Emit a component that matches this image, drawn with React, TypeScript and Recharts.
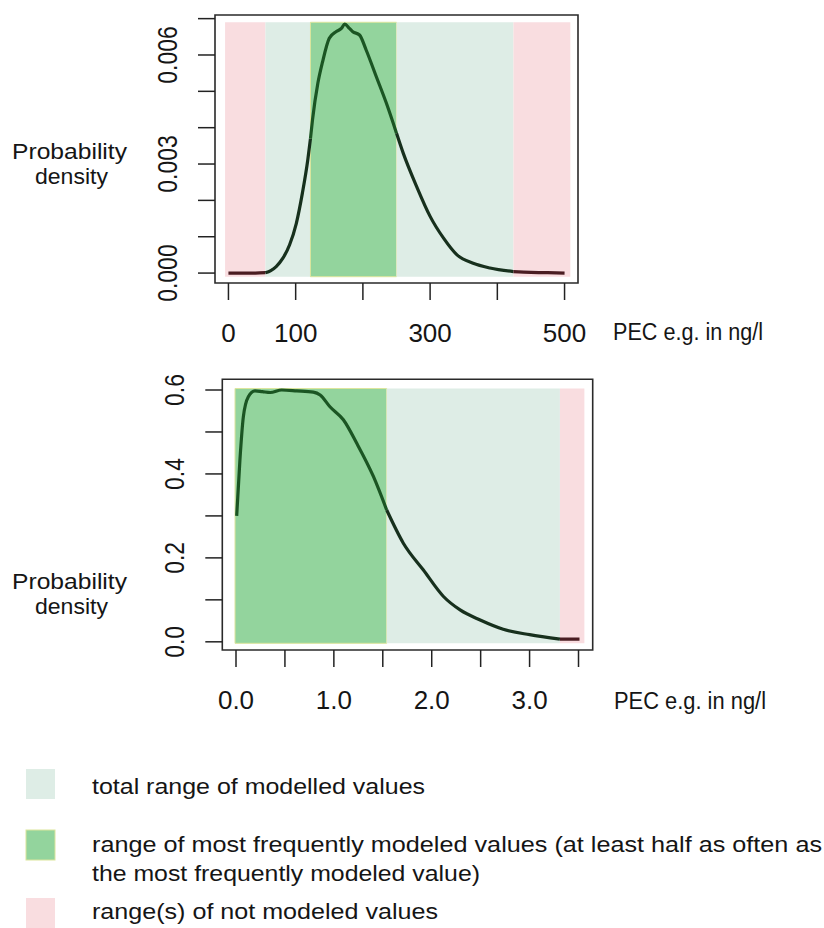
import React from 'react';
import { ComposedChart, Line, XAxis, YAxis, ReferenceArea } from 'recharts';

const FONT = '"Liberation Sans", Arial, Helvetica, sans-serif';
const INK = '#151515';

// colours of the ranges and of the density curve inside each range
const FILL = { none: '#f9dde0', total: '#deede6', frequent: '#93d49d' };
const CURVE = { none: '#4a1d22', total: '#17301d', frequent: '#1b5523' };

// upper panel: PEC e.g. in ng/l, 0..500
const topPec = [0, 20, 40, 55, 63, 71, 81, 91, 101, 110, 118, 122, 125, 133, 140, 150, 160, 168, 173, 180, 185, 195, 205, 220, 235, 250, 260, 280, 300, 320, 340, 364, 389, 424, 450, 475, 500];
const topDensity = [0, 0, 0, 0.00001, 0.00007, 0.00018, 0.00041, 0.00078, 0.00137, 0.0022, 0.00311, 0.0037, 0.00421, 0.00522, 0.00581, 0.00646, 0.00664, 0.00673, 0.00685, 0.00673, 0.00664, 0.00655, 0.00613, 0.0054, 0.00467, 0.00385, 0.0033, 0.00238, 0.00156, 0.00096, 0.0005, 0.00027, 0.00014, 0.00004, 0.00002, 0.00001, 0];
const topBreaks = [55, 122, 250, 424];
const topKinds = ['none', 'total', 'frequent', 'total', 'none'];
const topRangeEdges = [-5, 55, 122, 250, 424, 508.6];
const topRectY = [-0.0001, 0.0069];
const topTicksX = [0, 100, 200, 300, 400, 500];
const topLabelsX = ['0', '100', '', '300', '', '500'];
const topTicksY = [0, 0.001, 0.002, 0.003, 0.004, 0.005, 0.006, 0.007];
const topLabelsY = ['0.000', '', '', '0.003', '', '', '0.006', ''];

// lower panel: PEC e.g. in ng/l, 0..3.5
const lowPec = [0.007, 0.04, 0.075, 0.126, 0.194, 0.27, 0.35, 0.467, 0.62, 0.79, 0.86, 0.96, 1.097, 1.234, 1.404, 1.54, 1.71, 1.915, 2.12, 2.29, 2.495, 2.73, 3.0, 3.31, 3.51];
const lowDensity = [0.3, 0.433, 0.536, 0.584, 0.598, 0.596, 0.594, 0.6, 0.598, 0.595, 0.588, 0.56, 0.529, 0.473, 0.394, 0.314, 0.235, 0.171, 0.108, 0.076, 0.052, 0.03, 0.017, 0.0064, 0.0064];
const lowBreaks = [1.54, 3.31];
const lowKinds = ['frequent', 'total', 'none'];
const lowRangeEdges = [-0.01, 1.54, 3.31, 3.56];
const lowRectY = [-0.0036, 0.6036];
const lowTicksX = [0, 0.5, 1, 1.5, 2, 2.5, 3, 3.5];
const lowLabelsX = ['0.0', '', '1.0', '', '2.0', '', '3.0', ''];
const lowTicksY = [0, 0.1, 0.2, 0.3, 0.4, 0.5, 0.6];
const lowLabelsY = ['0.0', '', '0.2', '', '0.4', '', '0.6'];

const legendLabels = [
  ['total range of modelled values'],
  ['range of most frequently modeled values (at least half as often as', 'the most frequently modeled value)'],
  ['range(s) of not modeled values'],
];

type Pt = { x: number; y: number };

// split the curve at the range edges so each piece can take its own colour
function splitCurve(xs: number[], ys: number[], breaks: number[], kinds: string[]) {
  return kinds.map((kind, i) => {
    const lo = i === 0 ? -Infinity : breaks[i - 1];
    const hi = i === breaks.length ? Infinity : breaks[i];
    const data: Pt[] = [];
    xs.forEach((x, j) => {
      if (x >= lo && x <= hi) data.push({ x, y: ys[j] });
    });
    return { kind, data };
  });
}

const XTick = (props: any) => {
  const { x, y, payload, ticks, labels } = props;
  const label = labels[ticks.indexOf(payload.value)];
  if (!label) return null;
  return (
    <text x={x} y={y + 42} textAnchor="middle" fontSize={26} fontFamily={FONT} fill={INK}>
      {label}
    </text>
  );
};

const YTick = (props: any) => {
  const { x, y, payload, ticks, labels } = props;
  const label = labels[ticks.indexOf(payload.value)];
  if (!label) return null;
  return (
    <text
      transform={`translate(${x - 31},${y}) rotate(-90) scale(0.82,1)`}
      textAnchor="middle"
      dy="0.35em"
      fontSize={28}
      fontFamily={FONT}
      fill={INK}
    >
      {label}
    </text>
  );
};

interface PanelProps {
  top: number;
  height: number;
  margin: { top: number; right: number; bottom: number; left: number };
  xDomain: [number, number];
  yDomain: [number, number];
  xs: number[];
  ys: number[];
  breaks: number[];
  kinds: string[];
  rangeEdges: number[];
  rectY: number[];
  ticksX: number[];
  labelsX: string[];
  ticksY: number[];
  labelsY: string[];
}

const DensityPanel: React.FC<PanelProps> = (p) => {
  const pieces = splitCurve(p.xs, p.ys, p.breaks, p.kinds);
  const tickStyle = { stroke: '#222', strokeWidth: 1.5 };
  return (
    <div style={{ position: 'absolute', left: 0, top: p.top }}>
      <ComposedChart width={824} height={p.height} margin={p.margin}>
        <XAxis
          type="number"
          dataKey="x"
          domain={p.xDomain}
          ticks={p.ticksX}
          allowDataOverflow
          interval={0}
          height={60}
          axisLine={false}
          tickLine={tickStyle}
          tickSize={17}
          tickMargin={0}
          tick={(t: any) => <XTick {...t} ticks={p.ticksX} labels={p.labelsX} />}
        />
        <YAxis
          type="number"
          dataKey="y"
          domain={p.yDomain}
          ticks={p.ticksY}
          allowDataOverflow
          interval={0}
          width={60}
          axisLine={false}
          tickLine={tickStyle}
          tickSize={17}
          tickMargin={0}
          tick={(t: any) => <YTick {...t} ticks={p.ticksY} labels={p.labelsY} />}
        />
        {p.kinds.map((kind, i) => (
          <ReferenceArea
            key={`r-${i}`}
            x1={p.rangeEdges[i]}
            x2={p.rangeEdges[i + 1]}
            y1={p.rectY[0]}
            y2={p.rectY[1]}
            fill={FILL[kind as keyof typeof FILL]}
            fillOpacity={1}
            stroke={kind === 'frequent' ? '#dbe59c' : 'none'}
            strokeWidth={1}
            ifOverflow="visible"
          />
        ))}
        <ReferenceArea
          x1={p.xDomain[0]}
          x2={p.xDomain[1]}
          y1={p.yDomain[0]}
          y2={p.yDomain[1]}
          fill="none"
          stroke="#2a2a2a"
          strokeWidth={1.6}
          ifOverflow="visible"
        />
        {pieces.map((piece, i) => (
          <Line
            key={`c-${i}`}
            data={piece.data}
            dataKey="y"
            type="monotone"
            stroke={CURVE[piece.kind as keyof typeof CURVE]}
            strokeWidth={3.2}
            dot={false}
            activeDot={false}
            isAnimationActive={false}
          />
        ))}
      </ComposedChart>
    </div>
  );
};

const App: React.FC = () => {
  const swatches = [
    { fill: FILL.total, y: 769, stroke: 'none' },
    { fill: FILL.frequent, y: 830, stroke: '#dbe59c' },
    { fill: FILL.none, y: 898, stroke: 'none' },
  ];
  return (
    <div style={{ position: 'absolute', left: 0, top: 0, width: 824, height: 928, background: '#fff', overflow: 'hidden' }}>
      <DensityPanel
        top={0}
        height={360}
        margin={{ top: 15, right: 246, bottom: 17, left: 155 }}
        xDomain={[-20, 520]}
        yDomain={[-0.000273, 0.0071]}
        xs={topPec}
        ys={topDensity}
        breaks={topBreaks}
        kinds={topKinds}
        rangeEdges={topRangeEdges}
        rectY={topRectY}
        ticksX={topTicksX}
        labelsX={topLabelsX}
        ticksY={topTicksY}
        labelsY={topLabelsY}
      />
      <DensityPanel
        top={360}
        height={380}
        margin={{ top: 19.3, right: 231.3, bottom: 30, left: 162.3 }}
        xDomain={[-0.14, 3.645]}
        yDomain={[-0.0195, 0.6255]}
        xs={lowPec}
        ys={lowDensity}
        breaks={lowBreaks}
        kinds={lowKinds}
        rangeEdges={lowRangeEdges}
        rectY={lowRectY}
        ticksX={lowTicksX}
        labelsX={lowLabelsX}
        ticksY={lowTicksY}
        labelsY={lowLabelsY}
      />
      <svg
        width={824}
        height={928}
        style={{ position: 'absolute', left: 0, top: 0, pointerEvents: 'none' }}
        fontFamily={FONT}
        fill={INK}
      >
        <text x={12} y={159} fontSize={22} textLength={115} lengthAdjust="spacingAndGlyphs">Probability</text>
        <text x={35} y={184} fontSize={22} textLength={73} lengthAdjust="spacingAndGlyphs">density</text>
        <text x={12} y={589} fontSize={22} textLength={115} lengthAdjust="spacingAndGlyphs">Probability</text>
        <text x={35} y={614} fontSize={22} textLength={73} lengthAdjust="spacingAndGlyphs">density</text>

        <text x={613} y={340} fontSize={23} textLength={150} lengthAdjust="spacingAndGlyphs">PEC e.g. in ng/l</text>
        <text x={614} y={709} fontSize={23} textLength={152} lengthAdjust="spacingAndGlyphs">PEC e.g. in ng/l</text>

        {swatches.map((s, i) => (
          <rect key={`s-${i}`} x={26} y={s.y} width={29} height={30} fill={s.fill} stroke={s.stroke} strokeWidth={1} />
        ))}
        <text x={92} y={794} fontSize={22} textLength={333} lengthAdjust="spacingAndGlyphs">{legendLabels[0][0]}</text>
        <text x={92} y={852} fontSize={22} textLength={730} lengthAdjust="spacingAndGlyphs">{legendLabels[1][0]}</text>
        <text x={92} y={881} fontSize={22} textLength={388} lengthAdjust="spacingAndGlyphs">{legendLabels[1][1]}</text>
        <text x={92} y={919} fontSize={22} textLength={346} lengthAdjust="spacingAndGlyphs">{legendLabels[2][0]}</text>
      </svg>
    </div>
  );
};

export default App;
